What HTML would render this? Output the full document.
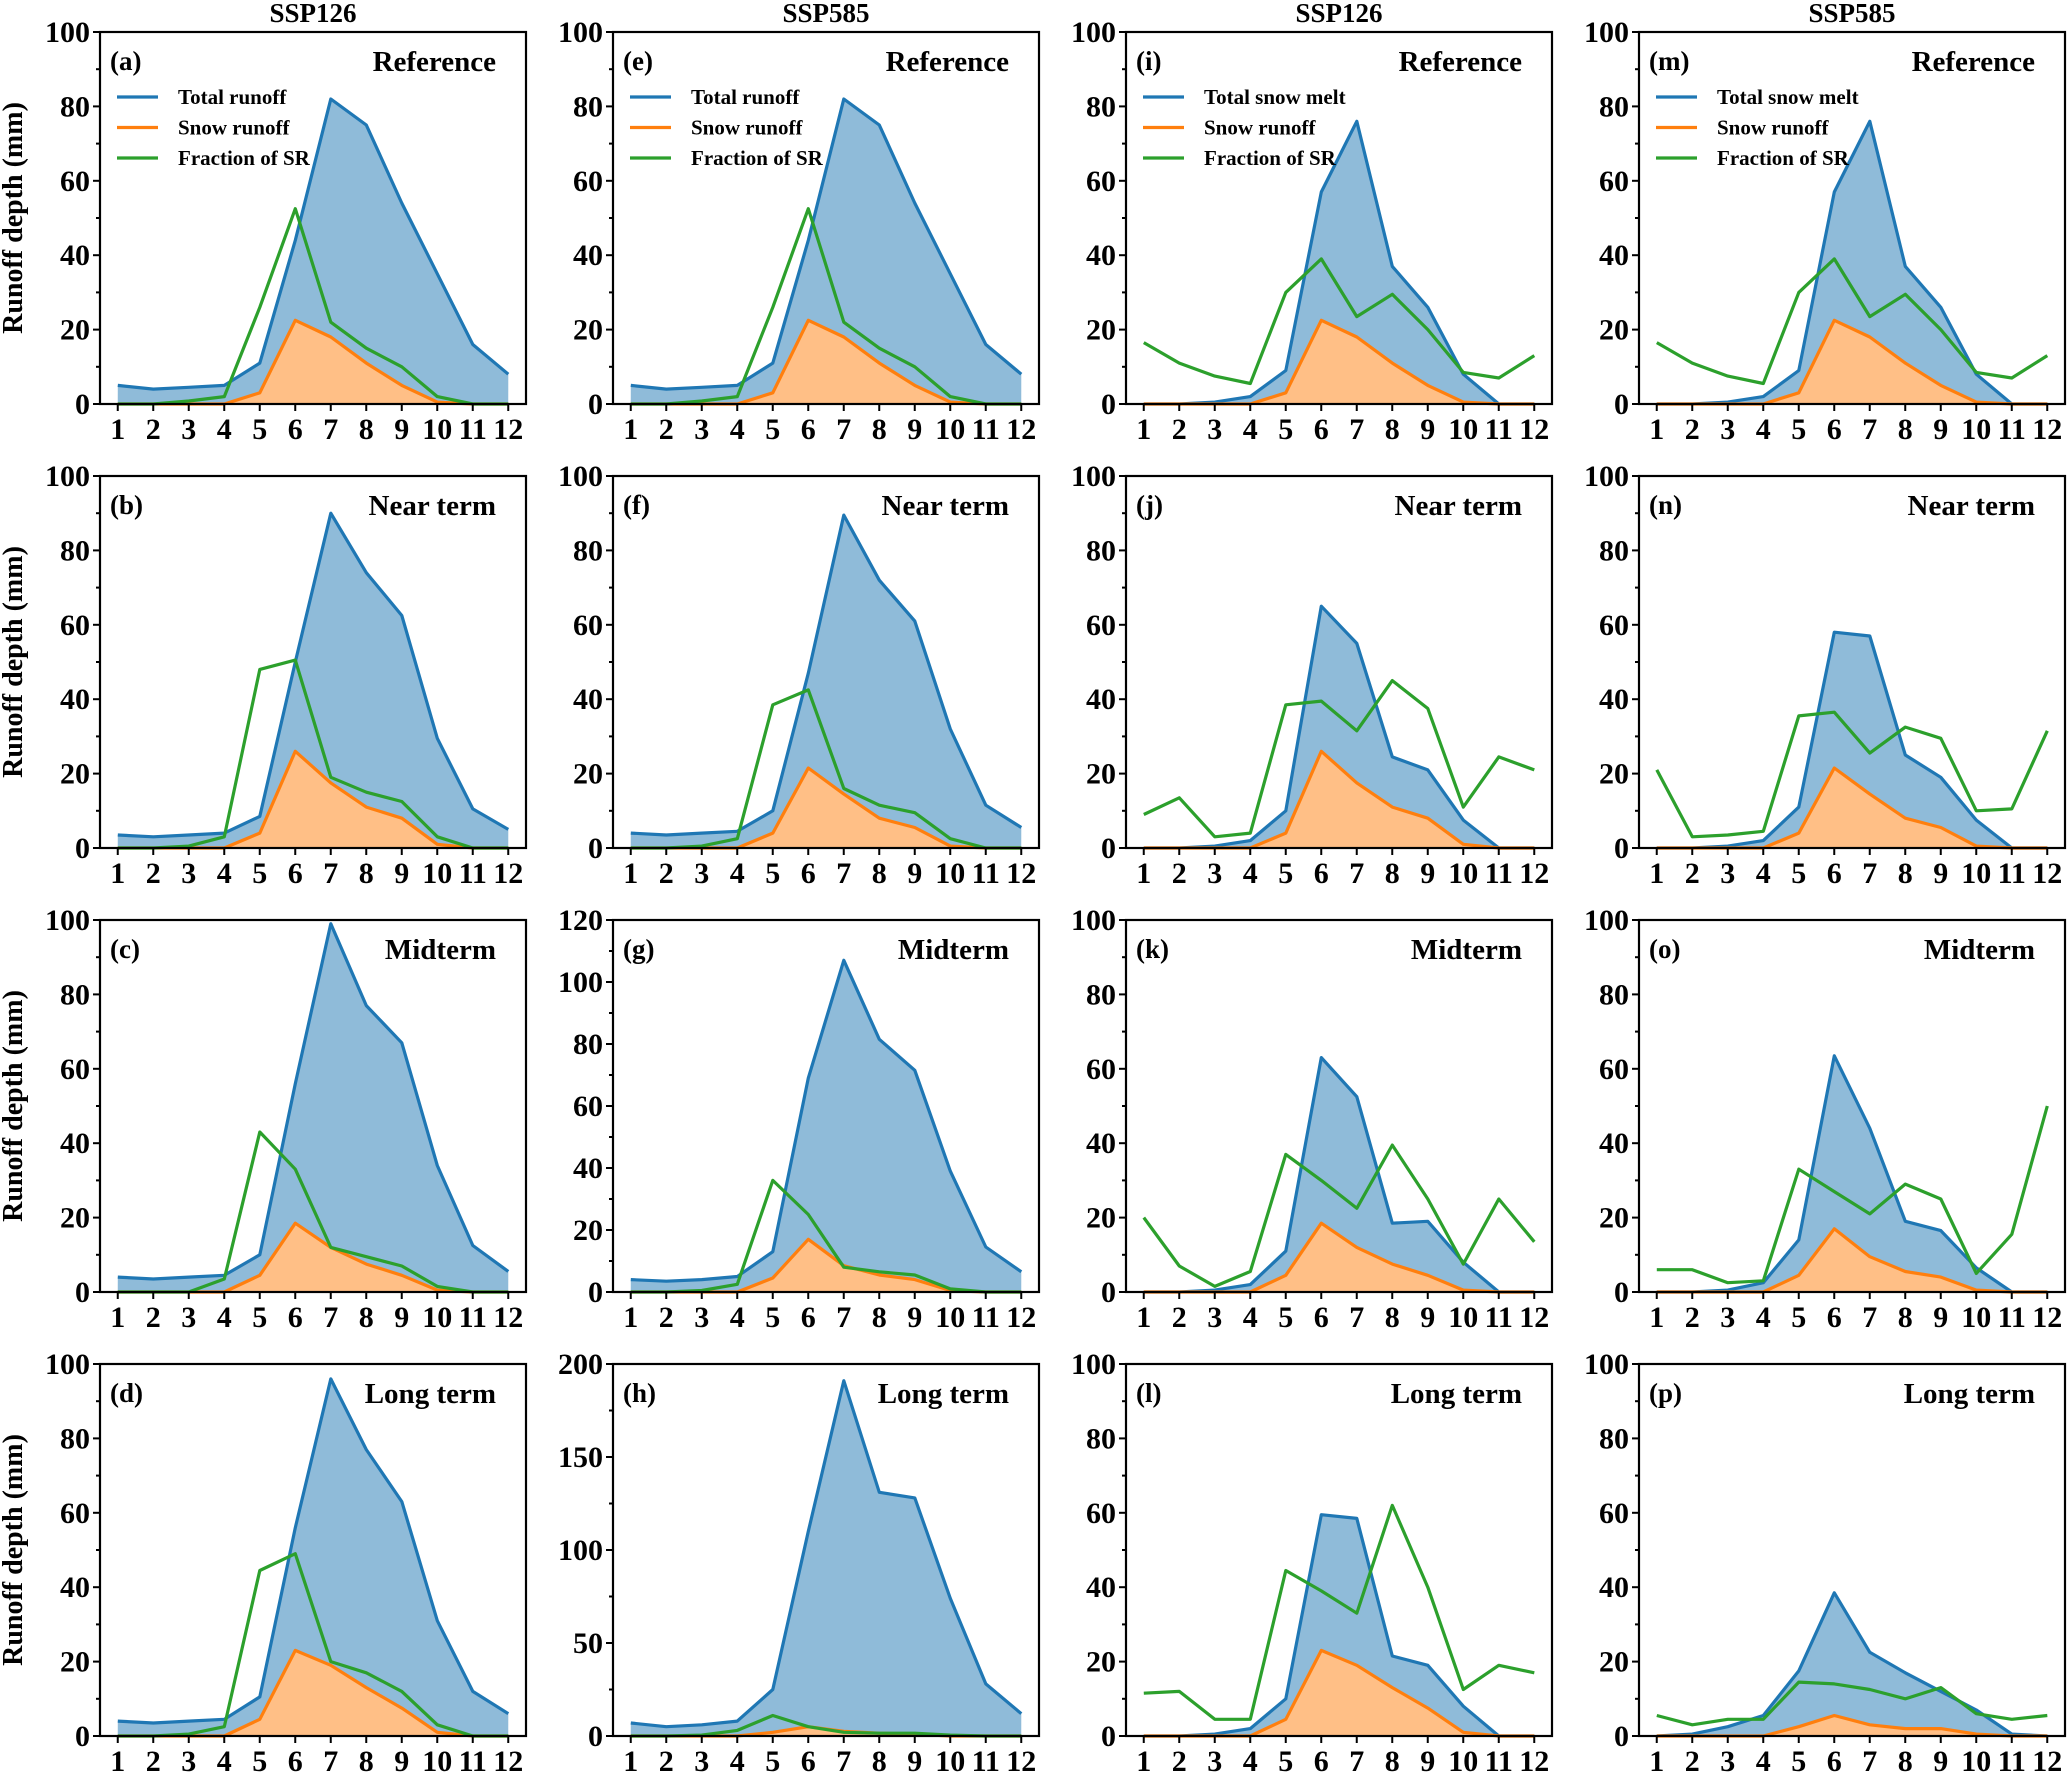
<!DOCTYPE html>
<html><head><meta charset="utf-8"><style>
html,body{margin:0;padding:0;background:#fff;}
svg{display:block;}
svg text{font-family:"Liberation Serif","DejaVu Serif","Times New Roman",serif !important;font-weight:bold;fill:#000;}
</style></head><body>
<svg id="chart" width="2067" height="1772" viewBox="0 0 2067 1772" xmlns="http://www.w3.org/2000/svg" font-family="Liberation Serif, DejaVu Serif, serif" font-weight="bold"></svg>
<script>
const months = [1,2,3,4,5,6,7,8,9,10,11,12];
const panelLabels = ["(a)","(b)","(c)","(d)","(e)","(f)","(g)","(h)","(i)","(j)","(k)","(l)","(m)","(n)","(o)","(p)"];
const periodNames = ["Reference","Near term","Midterm","Long term"];
const scenarioNames = ["SSP126","SSP585","SSP126","SSP585"];
const yMaxes = [100,100,100,100, 100,100,120,200, 100,100,100,100, 100,100,100,100];
const yStepMajor = [20,20,20,20, 20,20,20,50, 20,20,20,20, 20,20,20,20];
// total runoff / total snow melt (panel order a..p)
const totalA=[5,4,4.5,5,11,44,82,75,54,35,16,8];
const totalB=[3.5,3,3.5,4,8.5,50,90,74,62.5,29.5,10.5,5];
const totalC=[4,3.5,4,4.5,10,56,99,77,67,34,12.5,5.5];
const totalD=[4,3.5,4,4.5,10.5,56,96,77,63,31,12,6];
const totalE=[5,4,4.5,5,11,44,82,75,54,35,16,8];
const totalF=[4,3.5,4,4.5,10,47,89.5,72,61,32,11.5,5.5];
const totalG=[4,3.5,4,5,13,69,107,81.5,71.5,39,14.5,6.5];
const totalH=[7,5,6,8,25,110,191,131,128,74,28,12];
const totalI=[0,0,0.5,2,9,57,76,37,26,8,0,0];
const totalJ=[0,0,0.5,2,10,65,55,24.5,21,7.5,0,0];
const totalK=[0,0,0.5,2,11,63,52.5,18.5,19,8,0,0];
const totalL=[0,0,0.5,2,10,59.5,58.5,21.5,19,8,0,0];
const totalM=[0,0,0.5,2,9,57,76,37,26,8,0,0];
const totalN=[0,0,0.5,2,11,58,57,25,19,7.5,0,0];
const totalO=[0,0,0.5,2.5,14,63.5,44,19,16.5,6.5,0,0];
const totalP=[0,0.5,2.5,5.5,17.5,38.5,22.5,17,12,7,0.5,0];
// snow runoff
const snowA=[0,0,0,0,3,22.5,18,11,5,0.5,0,0];
const snowB=[0,0,0,0,4,26,17.5,11,8,1,0,0];
const snowC=[0,0,0,0,4.5,18.5,12,7.5,4.5,0.5,0,0];
const snowD=[0,0,0,0,4.5,23,19,13,7.5,1,0,0];
const snowE=[0,0,0,0,3,22.5,18,11,5,0.5,0,0];
const snowF=[0,0,0,0,4,21.5,14.5,8,5.5,0.5,0,0];
const snowG=[0,0,0,0,4.5,17,8.5,5.5,4,0.5,0,0];
const snowH=[0,0,0,0,2,5,2.5,1.5,1,0,0,0];
const snowI=[0,0,0,0,3,22.5,18,11,5,0.5,0,0];
const snowJ=[0,0,0,0,4,26,17.5,11,8,1,0,0];
const snowK=[0,0,0,0,4.5,18.5,12,7.5,4.5,0.5,0,0];
const snowL=[0,0,0,0,4.5,23,19,13,7.5,1,0,0];
const snowM=[0,0,0,0,3,22.5,18,11,5,0.5,0,0];
const snowN=[0,0,0,0,4,21.5,14.5,8,5.5,0.5,0,0];
const snowO=[0,0,0,0,4.5,17,9.5,5.5,4,0.5,0,0];
const snowP=[0,0,0,0,2.5,5.5,3,2,2,0.5,0,0];
// fraction of SR
const fracA=[0,0,0.8,2,26,52.5,22,15,10,2,0,0];
const fracB=[0,0,0.5,3,48,50.5,19,15,12.5,3,0,0];
const fracC=[0,0,0,3.5,43,33,12,9.5,7,1.5,0,0];
const fracD=[0,0,0.5,2.5,44.5,49,20,17,12,3,0,0];
const fracE=[0,0,0.8,2,26,52.5,22,15,10,2,0,0];
const fracF=[0,0,0.5,2.5,38.5,42.5,16,11.5,9.5,2.5,0,0];
const fracG=[0,0,0.5,2.5,36,25,8,6.5,5.5,1,0,0];
const fracH=[0,0,0.5,3,11,5,2,1.5,1.5,0.5,0,0];
const fracI=[16.5,11,7.5,5.5,30,39,23.5,29.5,20,8.5,7,13];
const fracJ=[9,13.5,3,4,38.5,39.5,31.5,45,37.5,11,24.5,21];
const fracK=[20,7,1.5,5.5,37,30,22.5,39.5,25,7.5,25,13.5];
const fracL=[11.5,12,4.5,4.5,44.5,39,33,62,40,12.5,19,17];
const fracM=[16.5,11,7.5,5.5,30,39,23.5,29.5,20,8.5,7,13];
const fracN=[21,3,3.5,4.5,35.5,36.5,25.5,32.5,29.5,10,10.5,31.5];
const fracO=[6,6,2.5,3,33,27,21,29,25,5,15.5,50];
const fracP=[5.5,3,4.5,4.5,14.5,14,12.5,10,13,6,4.5,5.5];

const totals=[totalA,totalB,totalC,totalD,totalE,totalF,totalG,totalH,totalI,totalJ,totalK,totalL,totalM,totalN,totalO,totalP];
const snows=[snowA,snowB,snowC,snowD,snowE,snowF,snowG,snowH,snowI,snowJ,snowK,snowL,snowM,snowN,snowO,snowP];
const fracs=[fracA,fracB,fracC,fracD,fracE,fracF,fracG,fracH,fracI,fracJ,fracK,fracL,fracM,fracN,fracO,fracP];

const NS="http://www.w3.org/2000/svg";
const svg=document.getElementById('chart');
function mk(tag,attrs,parent){const e=document.createElementNS(NS,tag);for(const k in attrs)e.setAttribute(k,attrs[k]);if(tag==='text'){e.setAttribute('font-family','Liberation Serif, DejaVu Serif, serif');e.setAttribute('font-weight','bold');}(parent||svg).appendChild(e);return e;}

const colLeft=[100,613,1126,1639], colW=426, rowTop=[32,476,920,1364], rowH=372;

for(let c=0;c<4;c++){
  const t=mk('text',{x:colLeft[c]+colW/2,y:22,'font-size':27,'text-anchor':'middle'});
  t.textContent=scenarioNames[c];
  
  
}
for(let r=0;r<4;r++){
  const cy=rowTop[r]+rowH/2;
  const t=mk('text',{x:0,y:0,'font-size':28,'text-anchor':'middle',transform:`translate(22,${cy}) rotate(-90)`});
  t.textContent='Runoff depth (mm)';
  
  
}

for(let c=0;c<4;c++){
 for(let r=0;r<4;r++){
  const i=c*4+r;
  const L=colLeft[c],T=rowTop[r],B=T+rowH,R=L+colW;
  const ymax=yMaxes[i], step=yStepMajor[i];
  const xs=m=>L+(m-0.5)/12*colW;
  const ys=v=>B-v/ymax*rowH;
  const g=mk('g',{});
  
  
  const tot=totals[i],sn=snows[i],fr=fracs[i];
  const line=arr=>arr.map((v,k)=>`${xs(months[k]).toFixed(1)},${ys(v).toFixed(1)}`).join(' ');
  const area=arr=>`${xs(months[0])},${ys(0)} `+line(arr)+` ${xs(months[11])},${ys(0)}`;
  const a1=mk('polygon',{points:area(tot),fill:'#8fbbd9'},g);
  
  
  const a2=mk('polygon',{points:area(sn),fill:'#ffbf86'},g);
  
  
  const l1=mk('polyline',{points:line(tot),fill:'none',stroke:'#1f77b4','stroke-width':3.2,'stroke-linejoin':'round'},g);
  
  
  const l2=mk('polyline',{points:line(sn),fill:'none',stroke:'#ff7f0e','stroke-width':3.2,'stroke-linejoin':'round'},g);
  
  
  const l3=mk('polyline',{points:line(fr),fill:'none',stroke:'#2ca02c','stroke-width':3.2,'stroke-linejoin':'round'},g);
  
  
  const frame=mk('rect',{x:L,y:T,width:colW,height:rowH,fill:'none',stroke:'#000','stroke-width':2.2},g);
  
  
  for(let v=0;v<=ymax+1e-9;v+=step/2){
    const major=Math.abs(v/step-Math.round(v/step))<1e-6;
    const y=ys(v);
    mk('line',{x1:L,x2:L-(major?7:4),y1:y,y2:y,stroke:'#000','stroke-width':2},g);
    if(major){
      const t=mk('text',{x:L-10,y:y+10,'font-size':30,'text-anchor':'end'},g);
      t.textContent=v;
      
      
    }
  }
  months.forEach(m=>{
    const x=xs(m);
    mk('line',{x1:x,x2:x,y1:B,y2:B+7,stroke:'#000','stroke-width':2},g);
    const t=mk('text',{x:x,y:B+35,'font-size':30,'text-anchor':'middle'},g);
    t.textContent=m;
    
    
  });
  const pl=mk('text',{x:L+10,y:T+38,'font-size':27},g);
  pl.textContent=panelLabels[i];
  
  
  const pn=mk('text',{x:R-30,y:T+39,'font-size':29,'text-anchor':'end'},g);
  pn.textContent=periodNames[r];
  
  
  if(r===0){
    const names=[c<2?'Total runoff':'Total snow melt','Snow runoff','Fraction of SR'];
    const cols=['#1f77b4','#ff7f0e','#2ca02c'];
    names.forEach((n,k)=>{
      const y=T+65+k*30.5;
      const lg=mk('g',{},g);
      
      
      mk('line',{x1:L+17,x2:L+58,y1:y,y2:y,stroke:cols[k],'stroke-width':3.2},lg);
      const t=mk('text',{x:L+78,y:y+7,'font-size':21},lg);
      t.textContent=n;
    });
  }
 }
}
</script>
</body></html>
